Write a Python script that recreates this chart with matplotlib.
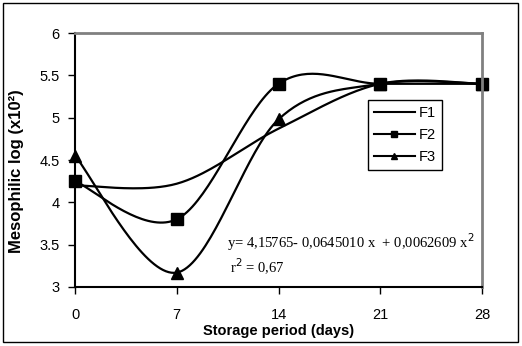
import numpy as np
import matplotlib
matplotlib.use('Agg')
import matplotlib.pyplot as plt
from matplotlib.lines import Line2D

plt.rcParams['font.family'] = ['Liberation Sans', 'DejaVu Sans']

days = [0, 7, 14, 21, 28]
f1 = [4.20, 4.22, 4.87, 5.40, 5.40]
f2 = [4.25, 3.80, 5.40, 5.40, 5.40]
f3 = [4.55, 3.17, 4.98, 5.40, 5.40]


def smooth(x, y, n=40):
    # Excel-like smoothed line: Catmull-Rom Bezier segments
    x = np.asarray(x, float)
    y = np.asarray(y, float)
    px = np.concatenate([[x[0]], x, [x[-1]]])
    py = np.concatenate([[y[0]], y, [y[-1]]])
    xs, ys = [], []
    t = np.linspace(0, 1, n)
    for i in range(1, len(px) - 2):
        p0 = np.array([px[i], py[i]])
        p3 = np.array([px[i + 1], py[i + 1]])
        c1 = p0 + (np.array([px[i + 1], py[i + 1]]) - np.array([px[i - 1], py[i - 1]])) / 6
        c2 = p3 - (np.array([px[i + 2], py[i + 2]]) - np.array([px[i], py[i]])) / 6
        b = ((1 - t) ** 3)[:, None] * p0 + (3 * (1 - t) ** 2 * t)[:, None] * c1 \
            + (3 * (1 - t) * t ** 2)[:, None] * c2 + (t ** 3)[:, None] * p3
        xs.extend(b[:, 0])
        ys.extend(b[:, 1])
    return xs, ys


fig = plt.figure(figsize=(5.22, 3.46), dpi=100)
ax = fig.add_axes([75 / 522, 1 - 287 / 346, 407 / 522, 254 / 346])

for data, mk in [(f1, None), (f2, 's'), (f3, '^')]:
    sx, sy = smooth(days, data)
    ax.plot(sx, sy, color='black', lw=1.6, clip_on=False)
    if mk:
        ax.plot(days, data, ls='none', marker=mk, ms=8, color='black', clip_on=False)

ax.set_xlim(0, 28)
ax.set_ylim(3, 6)
ax.set_xticks(days)
ax.set_yticks([3, 3.5, 4, 4.5, 5, 5.5, 6])
ax.set_yticklabels(['3', '3.5', '4', '4.5', '5', '5.5', '6'])
ax.tick_params(direction='out', length=5, width=1, labelsize=10.5)
ax.tick_params(axis='x', pad=10)
ax.tick_params(axis='y', pad=6)
for s in ['top', 'right']:
    ax.spines[s].set_color('#808080')
    ax.spines[s].set_linewidth(2)
for s in ['left', 'bottom']:
    ax.spines[s].set_linewidth(1.5)

ax.set_xlabel('Storage period (days)', fontsize=10.5, fontweight='bold')
ax.set_ylabel('Mesophilic log (x10²)', fontsize=12, fontweight='bold')
ax.xaxis.set_label_coords(0.5, -0.146)
ax.yaxis.set_label_coords(-0.125, 0.455)

handles = [
    Line2D([], [], color='black', lw=1.5),
    Line2D([], [], color='black', lw=1.5, marker='s', ms=5),
    Line2D([], [], color='black', lw=1.5, marker='^', ms=5),
]
leg = ax.legend(handles, ['F1', 'F2', 'F3'], loc='upper left',
                bbox_to_anchor=((368 - 75) / 407, (287 - 100) / 254),
                frameon=True, fancybox=False, edgecolor='black', framealpha=1,
                fontsize=10.5, handlelength=2.8, handletextpad=0.3,
                borderpad=0.4, labelspacing=0.55, borderaxespad=0)
leg.get_frame().set_linewidth(1)

ax.text((227 - 75) / 407, (287 - 248) / 254,
        'y= 4,15765- 0,0645010 x  + 0,0062609 x$^2$',
        transform=ax.transAxes, family='Liberation Serif', fontsize=10.5)
ax.text((230 - 75) / 407, (287 - 273) / 254, 'r$^2$ = 0,67',
        transform=ax.transAxes, family='Liberation Serif', fontsize=10.5)

fig.patches.append(plt.Rectangle((3 / 522, 4 / 346), 515 / 522, 339 / 346,
                                 transform=fig.transFigure, fill=False,
                                 edgecolor='black', lw=1))

fig.savefig('out.png', dpi=100)
